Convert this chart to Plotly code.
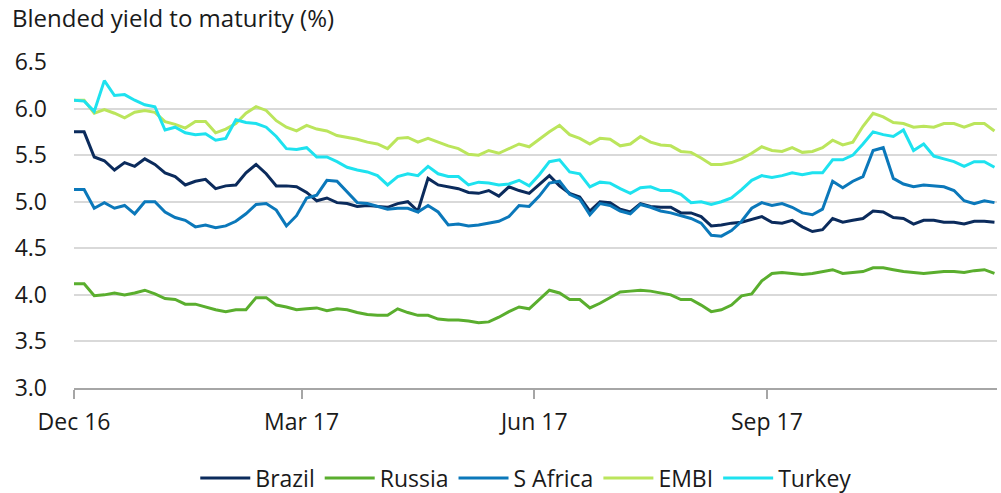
import pandas as pd
import plotly.graph_objects as go

# Sample dates (every 4 days, Dec 2016 - Nov 2017)
dates = pd.date_range("2016-12-01", periods=92, freq="4D")

brazil = [5.75, 5.75, 5.48, 5.44, 5.34, 5.42, 5.38, 5.46, 5.40, 5.31, 5.27, 5.18, 5.22, 5.24, 5.14, 5.17, 5.18,
          5.31, 5.40, 5.30, 5.17, 5.17, 5.16, 5.10, 5.01, 5.04, 4.99, 4.98, 4.95, 4.96, 4.95, 4.94,
          4.98, 5.00, 4.90, 5.25, 5.18, 5.16, 5.14, 5.10, 5.09, 5.12, 5.06, 5.16, 5.12, 5.09, 5.18, 5.28,
          5.17, 5.09, 5.05, 4.90, 5.00, 4.99, 4.92, 4.89, 4.98, 4.95, 4.94, 4.94, 4.88, 4.88, 4.84, 4.74,
          4.75, 4.77, 4.78, 4.81, 4.84, 4.78, 4.77, 4.80, 4.73, 4.68, 4.70, 4.82, 4.78, 4.80, 4.82, 4.90,
          4.89, 4.83, 4.82, 4.76, 4.80, 4.80, 4.78, 4.78, 4.76, 4.79, 4.79, 4.78]

russia = [4.12, 4.12, 3.99, 4.00, 4.02, 4.00, 4.02, 4.05, 4.01, 3.96, 3.95, 3.90, 3.90, 3.87, 3.84, 3.82,
          3.84, 3.84, 3.97, 3.97, 3.89, 3.87, 3.84, 3.85, 3.86, 3.83, 3.85,
          3.84, 3.81, 3.79, 3.78, 3.78, 3.85, 3.81, 3.78, 3.78, 3.74, 3.73, 3.73, 3.72, 3.70, 3.71, 3.76,
          3.82, 3.87, 3.85, 3.95, 4.05, 4.02, 3.95, 3.95, 3.86, 3.91, 3.97, 4.03, 4.04, 4.05, 4.04, 4.02,
          4.00, 3.95, 3.95, 3.89, 3.82, 3.84, 3.89, 3.99, 4.01, 4.15, 4.23, 4.24, 4.23, 4.22, 4.23, 4.25,
          4.27, 4.23, 4.24, 4.25, 4.29, 4.29, 4.27, 4.25, 4.24, 4.23, 4.24, 4.25, 4.25, 4.24, 4.26, 4.27, 4.23]

s_africa = [5.13, 5.13, 4.93, 4.99, 4.93, 4.96, 4.87, 5.00, 5.00, 4.89, 4.83, 4.80, 4.73, 4.75, 4.72, 4.74, 4.79,
            4.87, 4.97, 4.98, 4.91, 4.74, 4.85, 5.04, 5.07, 5.23, 5.22, 5.10, 4.99, 4.98, 4.95, 4.92,
            4.93, 4.93, 4.89, 4.96, 4.89, 4.75, 4.76, 4.74, 4.75, 4.77, 4.79, 4.84, 4.96, 4.95, 5.06, 5.20,
            5.22, 5.08, 5.03, 4.86, 4.98, 4.96, 4.90, 4.87, 4.97, 4.94, 4.90, 4.88, 4.85, 4.82, 4.77, 4.64,
            4.63, 4.69, 4.79, 4.93, 4.99, 4.96, 4.98, 4.94, 4.88, 4.86, 4.92, 5.22, 5.15, 5.22, 5.27, 5.55,
            5.58, 5.25, 5.19, 5.16, 5.18, 5.17, 5.16, 5.12, 5.01, 4.98, 5.01, 4.99]

embi = [6.09, 6.09, 5.95, 5.99, 5.95, 5.90, 5.96, 5.98, 5.96, 5.86, 5.83, 5.79, 5.86, 5.86, 5.74, 5.78, 5.84,
        5.95, 6.02, 5.98, 5.87, 5.80, 5.76, 5.82, 5.78, 5.76, 5.71, 5.69, 5.67, 5.64, 5.62, 5.57,
        5.68, 5.69, 5.64, 5.68, 5.64, 5.60, 5.57, 5.51, 5.50, 5.55, 5.52, 5.57, 5.62, 5.59, 5.67, 5.75,
        5.82, 5.72, 5.68, 5.62, 5.68, 5.67, 5.60, 5.62, 5.70, 5.64, 5.61, 5.60, 5.54, 5.53, 5.47, 5.40,
        5.40, 5.42, 5.46, 5.52, 5.59, 5.55, 5.54, 5.58, 5.53, 5.54, 5.58, 5.66, 5.61, 5.64, 5.81, 5.95,
        5.91, 5.85, 5.84, 5.80, 5.81, 5.80, 5.84, 5.84, 5.80, 5.84, 5.84, 5.76]

turkey = [6.09, 6.08, 5.97, 6.30, 6.14, 6.15, 6.09, 6.04, 6.02, 5.77, 5.80, 5.74, 5.72, 5.73, 5.66, 5.68, 5.88,
          5.85, 5.84, 5.80, 5.70, 5.57, 5.56, 5.58, 5.48, 5.48, 5.43, 5.37, 5.34, 5.32, 5.28, 5.18,
          5.27, 5.30, 5.28, 5.38, 5.30, 5.27, 5.27, 5.18, 5.21, 5.20, 5.18, 5.19, 5.23, 5.17, 5.29, 5.43,
          5.45, 5.32, 5.30, 5.16, 5.21, 5.20, 5.14, 5.09, 5.15, 5.16, 5.12, 5.12, 5.08, 4.99, 5.00, 4.97,
          5.00, 5.04, 5.13, 5.23, 5.28, 5.26, 5.28, 5.31, 5.29, 5.31, 5.31, 5.45, 5.45, 5.50, 5.62, 5.75,
          5.72, 5.70, 5.77, 5.55, 5.62, 5.49, 5.46, 5.43, 5.38, 5.43, 5.43, 5.37]

series_names = ["Brazil", "Russia", "S Africa", "EMBI", "Turkey"]
series_values = [brazil, russia, s_africa, embi, turkey]
colors = ["#0b2b5c", "#5aae2e", "#0b78ba", "#bbe55c", "#1ee2ef"]

tick_dates = ["2016-12-01", "2017-03-01", "2017-06-01", "2017-09-01"]
tick_labels = ["Dec 16", "Mar 17", "Jun 17", "Sep 17"]
y_ticks = [3.0, 3.5, 4.0, 4.5, 5.0, 5.5, 6.0, 6.5]

FONT = "Open Sans"
TXT = "#1a1a1a"

fig = go.Figure()
for name, vals, col in zip(series_names, series_values, colors):
    fig.add_trace(go.Scatter(x=dates, y=vals, mode="lines", name=name,
                             line=dict(color=col, width=3)))

fig.update_layout(
    width=1001, height=493,
    margin=dict(l=74, r=4, t=62, b=105, autoexpand=False),
    paper_bgcolor="white", plot_bgcolor="white",
    font=dict(family=FONT, size=23, color=TXT),
    showlegend=True,
    legend=dict(orientation="h", x=0.49, xanchor="center", y=-0.276, yanchor="middle",
                font=dict(family=FONT, size=23, color=TXT), itemwidth=50),
    annotations=[dict(text="Blended yield to maturity (%)", xref="paper", yref="paper",
                      x=-0.0695, y=1.135, xanchor="left", yanchor="middle", showarrow=False,
                      font=dict(family=FONT, size=24, color=TXT))],
)
fig.update_xaxes(
    type="date", range=["2016-12-01", "2017-12-01"], automargin=False,
    tickvals=tick_dates, ticktext=tick_labels,
    showgrid=False, showline=True, linecolor="#a6a6a6", linewidth=1.5,
    ticks="outside", ticklen=9, tickcolor="#a6a6a6", tickwidth=1.5,
    zeroline=False, ticklabelstandoff=4,
)
fig.update_yaxes(
    range=[3.0, 6.5], tickvals=y_ticks, tickformat=".1f", automargin=False,
    showgrid=True, gridcolor="#d9d9d9", gridwidth=1.5,
    zeroline=False, showline=False, ticks="", ticklabelstandoff=26,
)

# Remove the browser's default 8px page margin so the figure sits at the top-left corner.
fig.write_html("out.html", config={"displayModeBar": False},
               post_script="document.body.style.margin='0px';")
